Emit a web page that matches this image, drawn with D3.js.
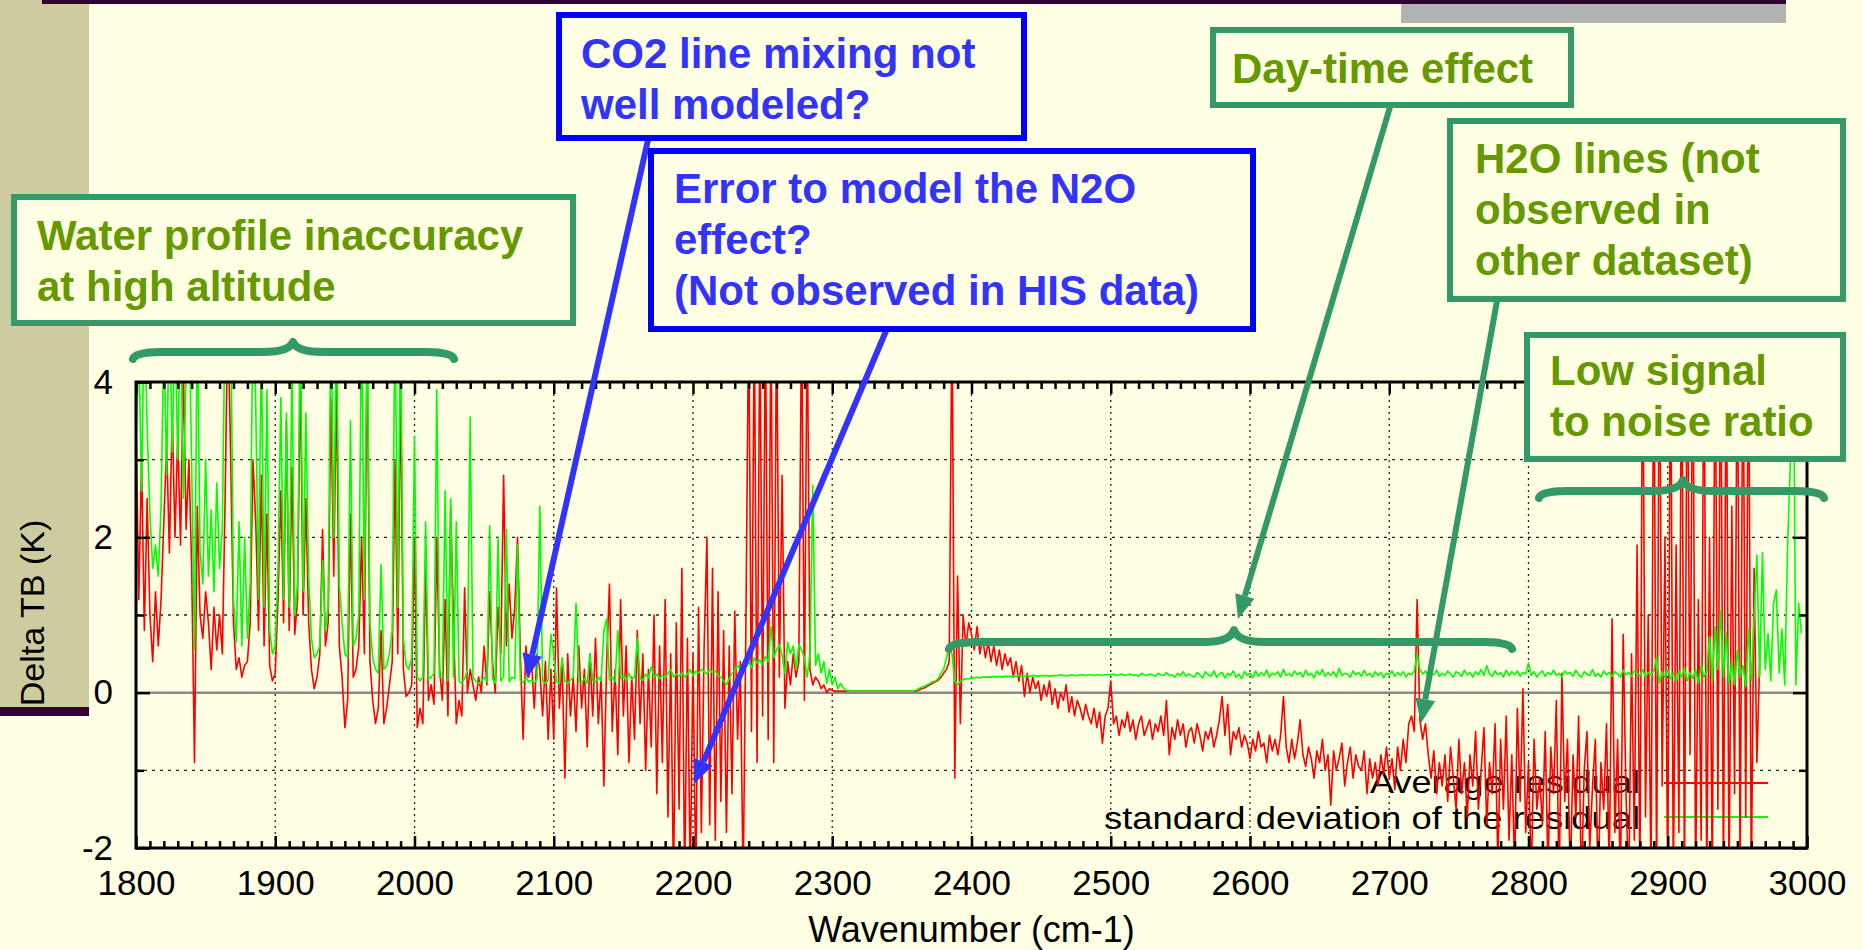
<!DOCTYPE html>
<html>
<head>
<meta charset="utf-8">
<script src="https://cdn.jsdelivr.net/npm/d3@7"></script>
<style>
  html, body { margin: 0; padding: 0; background: #ffffe3; overflow: hidden; }
  svg { display: block; }
  text { font-family: 'Liberation Sans', Arial, sans-serif; }
</style>
</head>
<body>
<div id="chart"></div>
<script>
// spectral grid of the residual file (cm-1)
const waveStart = 1800;
const waveStep = 2;

// Average residual, one row = 10 cm-1 (stops at 2966)
const avgResidual = [
  3.5, 1.2, 3.0, 0.8, 2.5,
  1.0, 0.4, 1.3, 0.6, 1.2,
  2.2, 3.2, 1.8, 3.6, 2.0,
  3.3, 1.9, 4.2, 2.1, 3.0,
  1.6, -0.9, 2.4, 1.0, 0.7,
  1.3, 0.9, 0.3, 1.1, 0.55,
  1.0, 0.5, 2.5, 5.0, 3.0,
  0.9, 0.3, 0.45, 0.2, 0.35,
  0.4, 0.9, 3.0, 2.2, 0.8,
  2.8, 0.6, 2.3, 0.35, 0.15,
  0.25, 1.2, 2.6, 0.9, 3.5,
  0.8, 2.9, 0.75, 1.2, 4.2,
  1.0, 2.5, 0.9, 0.3, 0.05,
  0.2, 0.5, 2.1, 0.6, 0.9,
  3.8, 1.5, 4.0, 0.6, 0.2,
  -0.45, -0.1, 2.3, 0.2, 0.3,
  0.6, 2.0, 0.5, 4.5, 0.4,
  -0.1, -0.4, -0.2, 0.8, -0.4,
  -0.2, 0.1, 0.4, 3.0, 0.5,
  4.0, 0.3, -0.05, 0.0, 0.1,
  2.0, -0.45, -0.2, -0.4, 1.67,
  -0.1, 0.1, -0.15, 2.0, 0.3,
  -0.1, 1.2, -0.3, 2.4, 0.9,
  -0.4, -0.1, -0.3, 1.35, 0.0,
  0.3, 0.1, -0.1, 0.2, 0.0,
  0.6, 0.1, 1.3, 0.4, 0.0,
  1.1, 0.5, 2.8, 0.6, 1.4,
  0.7, 1.1, 2.0, 0.5, -0.6,
  0.6, 0.2, 0.4, -0.2, 0.5,
  0.3, -0.3, 0.4, -0.6, 0.3,
  -0.6, 1.35, -0.2, 0.4, -1.1,
  0.5, -0.3, 0.2, -0.5, 0.6,
  -0.2, 0.3, -0.7, 0.5, -0.3,
  0.7, -0.4, 0.2, -1.2, 0.4,
  1.4, -0.5, 0.3, -0.8, 1.2,
  -0.3, 0.6, -0.9, 0.2, -0.6,
  0.8, -0.4, 0.5, -1.0, 0.3,
  -0.7, 1.0, -1.3, 0.6, -0.9,
  1.2, -1.6, 0.5, -2.5, 0.9,
  -1.5, 1.6, -2.5, 0.7, -2.5,
  0.5, -2.5, 1.1, -1.8, 0.6,
  2.0, -1.7, 1.6, -1.9, 1.3,
  -1.4, 0.8, -1.8, 0.6, -1.3,
  1.05, -0.6, 0.4, -2.5, 0.9,
  5.0, -0.5, 5.0, -0.9, 5.0,
  -0.3, 5.0, -0.6, 5.0, -0.9,
  5.0, 0.2, 2.8, -0.2, 0.4,
  0.1, 0.5, 0.2, 0.4, 5.0,
  -0.1, 5.0, 0.3, 0.1, 0.2,
  0.15, 0.05, 0.1, 0.0, 0.05,
  0.03, 0.02, 0.02, 0.02, 0.02,
  0.02, 0.02, 0.02, 0.02, 0.02,
  0.02, 0.02, 0.02, 0.02, 0.02,
  0.02, 0.02, 0.02, 0.02, 0.02,
  0.02, 0.02, 0.02, 0.02, 0.02,
  0.02, 0.02, 0.02, 0.02, 0.02,
  0.02, 0.03, 0.05, 0.06, 0.08,
  0.1, 0.12, 0.14, 0.16, 0.2,
  0.25, 0.3, 0.4, 5.0, -1.1,
  1.5, -0.4, 1.0, 0.6, 0.9,
  0.75, 0.55, 0.85, 0.5, 0.7,
  0.45, 0.65, 0.4, 0.6, 0.35,
  0.55, 0.3, 0.5, 0.35, 0.45,
  0.2, 0.4, 0.15, 0.35, -0.05,
  0.25, 0.0, 0.2, 0.05, 0.15,
  -0.1, 0.1, -0.05, 0.15, -0.15,
  0.05, -0.2, 0.0, -0.1, 0.1,
  -0.25, -0.05, -0.3, -0.1, -0.2,
  -0.35, -0.15, -0.3, -0.4, -0.2,
  -0.45, -0.25, -0.65, -0.3, -0.2,
  0.15, -0.4, -0.3, -0.55, -0.35,
  -0.45, -0.25, -0.5, -0.35, -0.6,
  -0.4, -0.3, -0.55, -0.45, -0.35,
  -0.6, -0.4, -0.5, -0.3, -0.55,
  -0.1, -0.8, -0.45, -0.6, -0.35,
  -0.55, -0.4, -0.7, -0.5, -0.45,
  -0.65, -0.4, -0.55, -0.75, -0.5,
  -0.6, -0.45, -0.7, -0.55, -0.35,
  -0.05, -0.55, -0.15, -0.8, -0.5,
  -0.6, -0.45, -0.7, -0.55, -0.65,
  -0.85, -0.6, -0.75, -0.5, -0.7,
  -0.65, -0.9, -0.55, -0.75, -0.6,
  -0.8, -0.55, -0.05, -0.7, -0.9,
  -0.6, -0.85, -0.65, -0.35, -0.8,
  -0.95, -0.7, -0.85, -1.1, -0.75,
  -0.9, -0.6, -1.0, -0.8, -1.45,
  -0.75, -1.0, -0.85, -0.65, -1.2,
  -0.9, -0.7, -1.1, -0.8, -0.95,
  -1.0, -0.75, -1.3, -0.85, -1.1,
  -0.9, -1.2, -0.8, -1.05, -0.7,
  -1.1, -0.85, -1.25, -0.7, -1.0,
  -0.6, -0.9, -0.4, -0.3, -0.5,
  1.2, -0.35, -0.6, -0.4, -0.8,
  -1.1, -0.75, -1.3, -0.9, -1.2,
  -0.8, -1.4, -0.7, -1.1, -1.5,
  -0.6, -1.3, -0.9, -1.6, -0.8,
  -1.2, -0.5, -1.5, -1.0, -0.45,
  -1.7, -0.9, -1.3, -0.4, -2.2,
  -0.6, -1.5, -0.3, -1.9, -0.8,
  -2.3, -0.2, -1.4, 0.05, -1.8,
  -0.9, -2.4, -0.6, -1.5, -1.1,
  -1.7, -0.5, -2.3, -0.7, -1.3,
  -0.1, -2.5, 0.25, -1.4, -0.6,
  -2.4, -0.8, -1.6, -0.3, -2.5,
  -1.0, -0.5, -2.0, -1.2, -0.6,
  -2.5, -0.9, -1.5, -0.4, -2.3,
  0.95, -1.8, -0.6, -2.5, 0.75,
  -1.3, -2.5, 0.5, -1.9, 1.9,
  -2.5, 5.0, -1.6, 1.0, -2.5,
  5.0, -2.5, 5.0, -1.2, 2.0,
  -2.5, 5.0, -2.5, 1.9, -1.8,
  5.0, -2.5, 5.0, -0.8, 5.0,
  -2.5, 1.2, -1.9, 5.0, -2.5,
  2.0, -2.5, 5.0, -1.5, 5.0,
  -2.5, 5.0, -2.5, 2.4, -1.3,
  5.0, -2.5, 5.0, -1.6, 5.0,
  -2.5, 1.6, -0.9, 0.4
];

// Standard deviation of the residual, same grid (stops at 2996)
const stdResidual = [
  3.2, 4.5, 2.6, 5.0, 3.4,
  2.3, 1.6, 1.9, 1.5, 2.4,
  4.6, 2.8, 5.0, 3.1, 4.8,
  3.0, 5.0, 2.5, 4.2, 5.0,
  2.9, 0.55, 5.0, 1.8, 1.4,
  3.0, 1.5, 2.35, 1.3, 2.7,
  1.6, 2.1, 5.0, 4.2, 5.0,
  1.2, 0.65, 2.2, 0.6, 2.0,
  0.7, 1.4, 5.0, 3.7, 1.2,
  4.6, 1.1, 3.9, 0.8, 0.5,
  0.6, 1.6, 3.8, 1.2, 3.6,
  1.1, 4.2, 1.0, 1.4, 5.0,
  1.3, 3.6, 1.5, 0.7, 0.45,
  0.5, 0.6, 1.7, 0.8, 1.1,
  5.0, 2.0, 5.0, 1.4, 0.9,
  0.5, 0.45, 3.5, 0.6, 0.7,
  1.0, 5.0, 1.2, 5.0, 0.9,
  0.45, 0.3, 0.25, 1.65, 0.3,
  0.35, 0.5, 0.8, 5.0, 1.1,
  5.0, 0.7, 0.35, 0.3, 0.45,
  3.3, 0.2, 0.15, 0.2, 2.2,
  0.18, 0.2, 0.25, 3.9, 0.2,
  0.2, 2.6, 0.15, 2.5, 0.2,
  2.2, 0.15, 0.12, 0.18, 0.3,
  3.55, 0.2, 0.15, 0.12, 0.15,
  0.2, 0.14, 2.15, 0.18, 0.12,
  2.0, 0.15, 0.2, 2.1, 0.14,
  0.2, 0.18, 1.9, 0.15, 0.13,
  0.2, 0.14, 0.16, 0.12, 0.18,
  2.4, 0.15, 0.12, 0.16, 0.75,
  0.5, 0.14, 0.12, 0.45, 0.15,
  0.12, 0.16, 0.2, 1.15, 0.14,
  0.13, 0.18, 0.12, 0.5, 0.15,
  0.14, 0.2, 0.15, 0.8, 0.95,
  0.16, 0.2, 0.14, 0.8, 0.18,
  0.22, 0.15, 0.25, 0.17, 0.2,
  0.7, 0.18, 0.16, 0.24, 0.19,
  0.33, 0.2, 0.24, 0.18, 0.22,
  0.19, 0.25, 0.3, 0.2, 0.24,
  0.21, 0.26, 0.2, 0.24, 0.3,
  0.22, 0.28, 0.25, 0.3, 0.27,
  0.24, 0.3, 0.26, 0.28, 0.22,
  0.2, 0.15, 0.1, 0.18, 0.25,
  0.28, 0.35, 0.3, 0.38, 0.33,
  0.4, 0.32, 0.45, 0.38, 0.42,
  0.36, 0.47, 0.4, 0.85, 0.45,
  0.55, 0.62, 0.48, 0.25, 0.65,
  0.5, 0.6, 0.3, 0.62, 0.55,
  0.45, 0.2, 0.5, 2.67, 0.35,
  0.5, 0.25, 0.4, 0.12, 0.3,
  0.1, 0.2, 0.05, 0.12, 0.06,
  0.03, 0.02, 0.02, 0.02, 0.02,
  0.02, 0.02, 0.02, 0.02, 0.02,
  0.02, 0.02, 0.02, 0.02, 0.02,
  0.02, 0.02, 0.02, 0.02, 0.02,
  0.02, 0.02, 0.02, 0.02, 0.02,
  0.03, 0.05, 0.07, 0.08, 0.1,
  0.12, 0.14, 0.15, 0.18, 0.25,
  0.3, 0.45, 0.58, 0.5, 0.15,
  0.1, 0.14, 0.17, 0.18, 0.18,
  0.19, 0.19, 0.2, 0.19, 0.2,
  0.2, 0.2, 0.2, 0.21, 0.2,
  0.21, 0.2, 0.21, 0.21, 0.21,
  0.21, 0.21, 0.22, 0.21, 0.21,
  0.22, 0.21, 0.22, 0.22, 0.21,
  0.22, 0.22, 0.22, 0.21, 0.22,
  0.22, 0.22, 0.23, 0.22, 0.22,
  0.22, 0.23, 0.22, 0.22, 0.23,
  0.23, 0.22, 0.23, 0.23, 0.22,
  0.23, 0.23, 0.22, 0.23, 0.23,
  0.23, 0.24, 0.22, 0.23, 0.24,
  0.22, 0.23, 0.24, 0.22, 0.23,
  0.21, 0.25, 0.23, 0.22, 0.24,
  0.23, 0.21, 0.25, 0.23, 0.22,
  0.26, 0.22, 0.23, 0.2, 0.25,
  0.22, 0.27, 0.21, 0.24, 0.22,
  0.2, 0.26, 0.23, 0.19, 0.27,
  0.23, 0.21, 0.28, 0.2, 0.24,
  0.26, 0.19, 0.25, 0.22, 0.28,
  0.2, 0.24, 0.18, 0.27, 0.22,
  0.25, 0.19, 0.28, 0.21, 0.26,
  0.22, 0.29, 0.2, 0.25, 0.23,
  0.27, 0.2, 0.3, 0.22, 0.25,
  0.21, 0.28, 0.23, 0.26, 0.2,
  0.29, 0.22, 0.25, 0.19, 0.28,
  0.23, 0.3, 0.21, 0.26, 0.22,
  0.27, 0.2, 0.31, 0.22, 0.25,
  0.24, 0.2, 0.28, 0.23, 0.26,
  0.21, 0.29, 0.22, 0.25, 0.2,
  0.27, 0.22, 0.26, 0.19, 0.25,
  0.23, 0.28, 0.21, 0.26, 0.22,
  0.27, 0.2, 0.25, 0.23, 0.28,
  0.5, 0.3, 0.24, 0.28, 0.21,
  0.26, 0.23, 0.29, 0.21, 0.25,
  0.22, 0.28, 0.24, 0.2, 0.27,
  0.25, 0.21, 0.29, 0.23, 0.26,
  0.2, 0.27, 0.23, 0.3, 0.22,
  0.35, 0.24, 0.21, 0.28, 0.23,
  0.26, 0.2, 0.29, 0.22, 0.27,
  0.23, 0.28, 0.21, 0.26, 0.24,
  0.38, 0.22, 0.27, 0.2, 0.25,
  0.28, 0.21, 0.26, 0.23, 0.29,
  0.22, 0.25, 0.2, 0.28, 0.24,
  0.26, 0.21, 0.29, 0.23, 0.2,
  0.27, 0.24, 0.22, 0.3, 0.21,
  0.25, 0.2, 0.28, 0.23, 0.26,
  0.21, 0.27, 0.24, 0.2, 0.29,
  0.23, 0.26, 0.21, 0.28, 0.25,
  0.22, 0.3, 0.2, 0.26, 0.23,
  0.28, 0.46, 0.12, 0.27, 0.2,
  0.3, 0.18, 0.25, 0.14, 0.28,
  0.2, 0.32, 0.15, 0.26, 0.18,
  0.3, 0.12, 0.35, 0.2, 0.28,
  0.72, 0.15, 0.85, 0.3, 1.06,
  0.2, 0.77, 0.12, 0.4, 0.1,
  0.55, 0.2, 0.35, 0.08, 0.83,
  0.15, 0.96, 1.77, 0.2, 1.8,
  0.3, 0.76, 0.15, 1.15, 1.32,
  0.25, 0.82, 0.1, 1.84, 2.95,
  5.0, 0.1, 1.15, 0.76
];

const xTicks = [1800, 1900, 2000, 2100, 2200, 2300, 2400, 2500, 2600, 2700, 2800, 2900, 3000];
const yTicks = [-2, 0, 2, 4];
const yMinorTicks = [-1, 1, 3];
const yGridLines = [-1, 1, 2, 3];
const legendLabels = ['Average residual', 'standard deviation of the residual'];
const seriesColors = ['#ff0000', '#00ff00'];

const width = 1863;
const height = 950;

const svg = d3.select('#chart')
  .append('svg')
  .attr('width', width)
  .attr('height', height);

// slide decoration
svg.append('rect').attr('width', width).attr('height', height).attr('fill', '#ffffe3');
svg.append('rect').attr('x', 0).attr('y', 0).attr('width', 89).attr('height', 707).attr('fill', '#cccc9e');
svg.append('rect').attr('x', 0).attr('y', 707).attr('width', 89).attr('height', 9).attr('fill', '#330033');
svg.append('rect').attr('x', 42).attr('y', 0).attr('width', 1744).attr('height', 4).attr('fill', '#330033');
svg.append('rect').attr('x', 1401).attr('y', 4).attr('width', 385).attr('height', 19).attr('fill', '#b2b2b2');

const xScale = d3.scaleLinear().domain([1800, 3000]).range([136, 1807]);
const yScale = d3.scaleLinear().domain([-2, 4]).range([848, 382]);

svg.append('clipPath')
  .attr('id', 'plot-clip')
  .append('rect')
  .attr('x', xScale(1800))
  .attr('y', yScale(4))
  .attr('width', xScale(3000) - xScale(1800))
  .attr('height', yScale(-2) - yScale(4));

const plot = svg.append('g');

// grid
plot.append('g')
  .selectAll('line')
  .data(xTicks.slice(1, -1))
  .join('line')
  .attr('x1', (d) => xScale(d))
  .attr('x2', (d) => xScale(d))
  .attr('y1', yScale(4))
  .attr('y2', yScale(-2))
  .attr('stroke', '#222')
  .attr('stroke-width', 1.3)
  .attr('stroke-dasharray', '2,4');

plot.append('g')
  .selectAll('line')
  .data(yGridLines)
  .join('line')
  .attr('x1', xScale(1800))
  .attr('x2', xScale(3000))
  .attr('y1', (d) => yScale(d))
  .attr('y2', (d) => yScale(d))
  .attr('stroke', '#222')
  .attr('stroke-width', 1.3)
  .attr('stroke-dasharray', '3,5');

plot.append('line')
  .attr('x1', xScale(1800))
  .attr('x2', xScale(3000))
  .attr('y1', yScale(0))
  .attr('y2', yScale(0))
  .attr('stroke', '#8a8a8a')
  .attr('stroke-width', 2.5);

// key sits under the curves, like in gnuplot
const legendWidths = [270, 536];
legendLabels.forEach((label, i) => {
  plot.append('text')
    .attr('x', 1640)
    .attr('y', 793 + i * 36)
    .attr('text-anchor', 'end')
    .attr('font-size', 32)
    .attr('textLength', legendWidths[i])
    .attr('lengthAdjust', 'spacingAndGlyphs')
    .attr('fill', '#000')
    .text(label);
  plot.append('line')
    .attr('x1', 1664)
    .attr('x2', 1768)
    .attr('y1', 783 + i * 34)
    .attr('y2', 783 + i * 34)
    .attr('stroke', seriesColors[i])
    .attr('stroke-width', 1.8);
});

const line = d3.line()
  .x((d) => xScale(d[0]))
  .y((d) => yScale(d[1]));

[avgResidual, stdResidual].forEach((values, i) => {
  plot.append('path')
    .datum(values.map((v, j) => [waveStart + j * waveStep, v]))
    .attr('clip-path', 'url(#plot-clip)')
    .attr('fill', 'none')
    .attr('stroke', seriesColors[i])
    .attr('stroke-width', 1.6)
    .attr('stroke-linejoin', 'round')
    .attr('d', line);
});

// axes (ticks point inwards on all four sides)
const minorX = d3.range(1810, 3000, 10).filter((d) => d % 100 !== 0);
const plain = (d) => String(d);

const styleAxis = (g) => {
  g.select('.domain').remove();
  g.attr('font-size', 35).attr('font-family', "'Liberation Sans', Arial, sans-serif");
  g.selectAll('line').attr('stroke', '#000').attr('stroke-width', 2.5);
  g.selectAll('text').attr('fill', '#000');
};

plot.append('g')
  .attr('transform', `translate(0,${yScale(-2)})`)
  .call(d3.axisBottom(xScale).tickValues(xTicks).tickSize(-12).tickPadding(22).tickFormat(plain))
  .call(styleAxis);
plot.append('g')
  .attr('transform', `translate(0,${yScale(-2)})`)
  .call(d3.axisBottom(xScale).tickValues(minorX).tickSize(-7).tickFormat(''))
  .call(styleAxis);
plot.append('g')
  .attr('transform', `translate(0,${yScale(4)})`)
  .call(d3.axisTop(xScale).tickValues(xTicks).tickSize(-12).tickFormat(''))
  .call(styleAxis);
plot.append('g')
  .attr('transform', `translate(0,${yScale(4)})`)
  .call(d3.axisTop(xScale).tickValues(minorX).tickSize(-7).tickFormat(''))
  .call(styleAxis);

plot.append('g')
  .attr('transform', `translate(${xScale(1800)},0)`)
  .call(d3.axisLeft(yScale).tickValues(yTicks).tickSize(-14).tickPadding(23).tickFormat(plain))
  .call(styleAxis);
plot.append('g')
  .attr('transform', `translate(${xScale(1800)},0)`)
  .call(d3.axisLeft(yScale).tickValues(yMinorTicks).tickSize(-8).tickFormat(''))
  .call(styleAxis);
plot.append('g')
  .attr('transform', `translate(${xScale(3000)},0)`)
  .call(d3.axisRight(yScale).tickValues(yTicks).tickSize(-14).tickFormat(''))
  .call(styleAxis);
plot.append('g')
  .attr('transform', `translate(${xScale(3000)},0)`)
  .call(d3.axisRight(yScale).tickValues(yMinorTicks).tickSize(-8).tickFormat(''))
  .call(styleAxis);

plot.append('rect')
  .attr('x', xScale(1800))
  .attr('y', yScale(4))
  .attr('width', xScale(3000) - xScale(1800))
  .attr('height', yScale(-2) - yScale(4))
  .attr('fill', 'none')
  .attr('stroke', '#000')
  .attr('stroke-width', 3);

plot.append('text')
  .attr('x', (xScale(1800) + xScale(3000)) / 2)
  .attr('y', 942)
  .attr('text-anchor', 'middle')
  .attr('font-size', 36)
  .text('Wavenumber (cm-1)');

plot.append('text')
  .attr('transform', 'translate(44,613) rotate(-90)')
  .attr('text-anchor', 'middle')
  .attr('font-size', 34)
  .text('Delta TB (K)');

// annotations
const green = '#339966';
const olive = '#669900';
const blue = '#0000ff';
const lightBlue = '#3333ff';

const brace = (x0, x1, xm, yBar, yTip, yEnd) => {
  const p = d3.path();
  p.moveTo(x0, yEnd);
  p.quadraticCurveTo(x0 + 2, yBar, x0 + 28, yBar);
  p.lineTo(xm - 30, yBar);
  p.quadraticCurveTo(xm - 4, yBar, xm, yTip);
  p.quadraticCurveTo(xm + 4, yBar, xm + 30, yBar);
  p.lineTo(x1 - 28, yBar);
  p.quadraticCurveTo(x1 - 2, yBar, x1, yEnd);
  svg.append('path')
    .attr('d', p.toString())
    .attr('fill', 'none')
    .attr('stroke', green)
    .attr('stroke-width', 8)
    .attr('stroke-linecap', 'round')
    .attr('stroke-linejoin', 'round');
};

brace(133, 454, 293, 352, 342, 359);
brace(949, 1512, 1234, 642, 630, 649);
brace(1539, 1824, 1683, 491, 480, 498);

const arrow = (x1, y1, x2, y2, color) => {
  const ang = Math.atan2(y2 - y1, x2 - x1);
  const len = 24;
  const half = 10;
  const bx = x2 - len * Math.cos(ang);
  const by = y2 - len * Math.sin(ang);
  svg.append('line')
    .attr('x1', x1).attr('y1', y1)
    .attr('x2', bx).attr('y2', by)
    .attr('stroke', color)
    .attr('stroke-width', 6);
  svg.append('path')
    .attr('d', `M${x2},${y2}L${bx + half * Math.sin(ang)},${by - half * Math.cos(ang)}L${bx - half * Math.sin(ang)},${by + half * Math.cos(ang)}Z`)
    .attr('fill', color);
};

arrow(648, 140, 527, 678, lightBlue);
arrow(886, 331, 694, 784, lightBlue);
arrow(1390, 107, 1238, 619, green);
arrow(1497, 301, 1421, 723, green);

const notes = [
  { x: 11, y: 194, w: 565, h: 132, border: green, fill: olive, tx: 37, ty: 250, lines: ['Water profile inaccuracy', 'at high altitude'] },
  { x: 556, y: 12, w: 471, h: 129, border: blue, fill: lightBlue, tx: 581, ty: 68, lines: ['CO2 line mixing not', 'well modeled?'] },
  { x: 648, y: 148, w: 608, h: 184, border: blue, fill: lightBlue, tx: 674, ty: 203, lines: ['Error to model the N2O', 'effect?', '(Not observed in HIS data)'] },
  { x: 1210, y: 27, w: 364, h: 81, border: green, fill: olive, tx: 1232, ty: 83, lines: ['Day-time effect'] },
  { x: 1447, y: 118, w: 399, h: 184, border: green, fill: olive, tx: 1475, ty: 173, lines: ['H2O lines (not', 'observed in', 'other dataset)'] },
  { x: 1524, y: 332, w: 322, h: 130, border: green, fill: olive, tx: 1550, ty: 385, lines: ['Low signal', 'to noise ratio'] },
];

notes.forEach((n) => {
  svg.append('rect')
    .attr('x', n.x + 3)
    .attr('y', n.y + 3)
    .attr('width', n.w - 6)
    .attr('height', n.h - 6)
    .attr('fill', '#ffffe3')
    .attr('stroke', n.border)
    .attr('stroke-width', 6);
  const t = svg.append('text')
    .attr('font-size', 42)
    .attr('font-weight', 'bold')
    .attr('fill', n.fill);
  n.lines.forEach((s, i) => {
    t.append('tspan').attr('x', n.tx).attr('y', n.ty + i * 51).text(s);
  });
});
</script>
</body>
</html>
